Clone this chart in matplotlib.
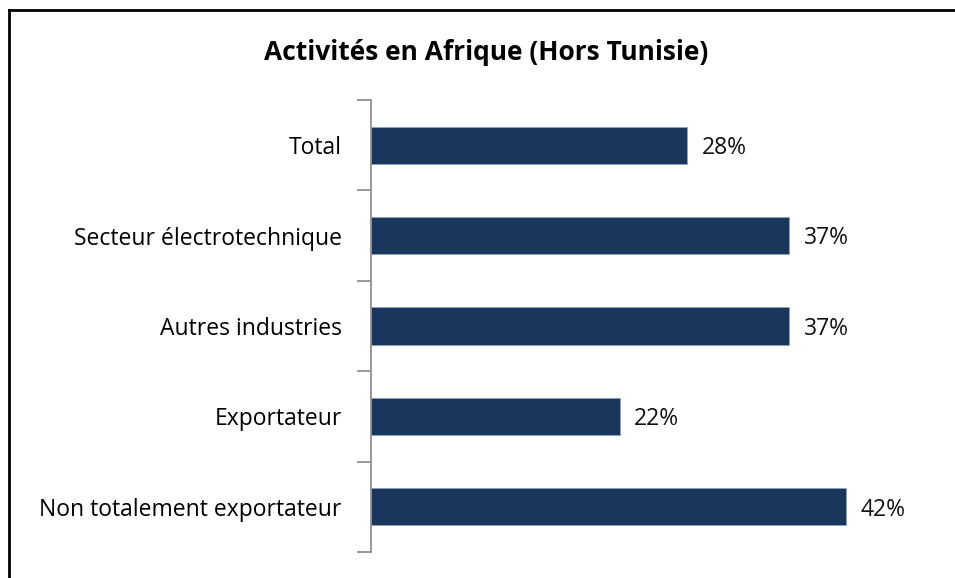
import matplotlib.pyplot as plt
from matplotlib.lines import Line2D

categories = ["Total", "Secteur électrotechnique", "Autres industries",
              "Exportateur", "Non totalement exportateur"]
values = [28, 37, 37, 22, 42]
title = "Activités en Afrique (Hors Tunisie)"

plt.rcParams['font.family'] = ['Open Sans', 'DejaVu Sans']

fig = plt.figure(figsize=(9.55, 5.78), dpi=100)
W, H = 955, 578
ax = fig.add_axes([371 / W, 26 / H, 565 / W, 452 / H])

ypos = list(range(len(categories)))
ax.barh(ypos, values, height=0.41, color="#1b365d", edgecolor="#8fa3bf", linewidth=0.6)
ax.set_ylim(len(categories) - 0.5, -0.5)
ax.set_xlim(0, 50)

for y, v in zip(ypos, values):
    ax.text(v + 1.3, y + 0.03, f"{v}%", va="center", ha="left", fontsize=16.5, color="#111111")

ax.set_yticks([i - 0.5 for i in range(len(categories) + 1)])
ax.set_yticklabels([])
ax.set_yticks(ypos, minor=True)
ax.set_yticklabels(categories, minor=True, fontsize=16.5)
ax.tick_params(axis="y", which="major", length=10, color="#888888", width=1.2)
ax.tick_params(axis="y", which="minor", length=0, pad=21)
ax.set_xticks([])
for s in ["top", "right", "bottom"]:
    ax.spines[s].set_visible(False)
ax.spines["left"].set_color("#888888")
ax.spines["left"].set_linewidth(1.2)

fig.text(486 / W, 1 - 52 / H, title, ha="center", va="center",
         fontsize=19, fontweight="bold")

# outer border of the chart box
fig.add_artist(Line2D([9 / W, 1], [1 - 10 / H, 1 - 10 / H], color="black", lw=2))
fig.add_artist(Line2D([9 / W, 9 / W], [0, 1 - 10 / H], color="black", lw=2))

fig.savefig("out.png", dpi=100)
